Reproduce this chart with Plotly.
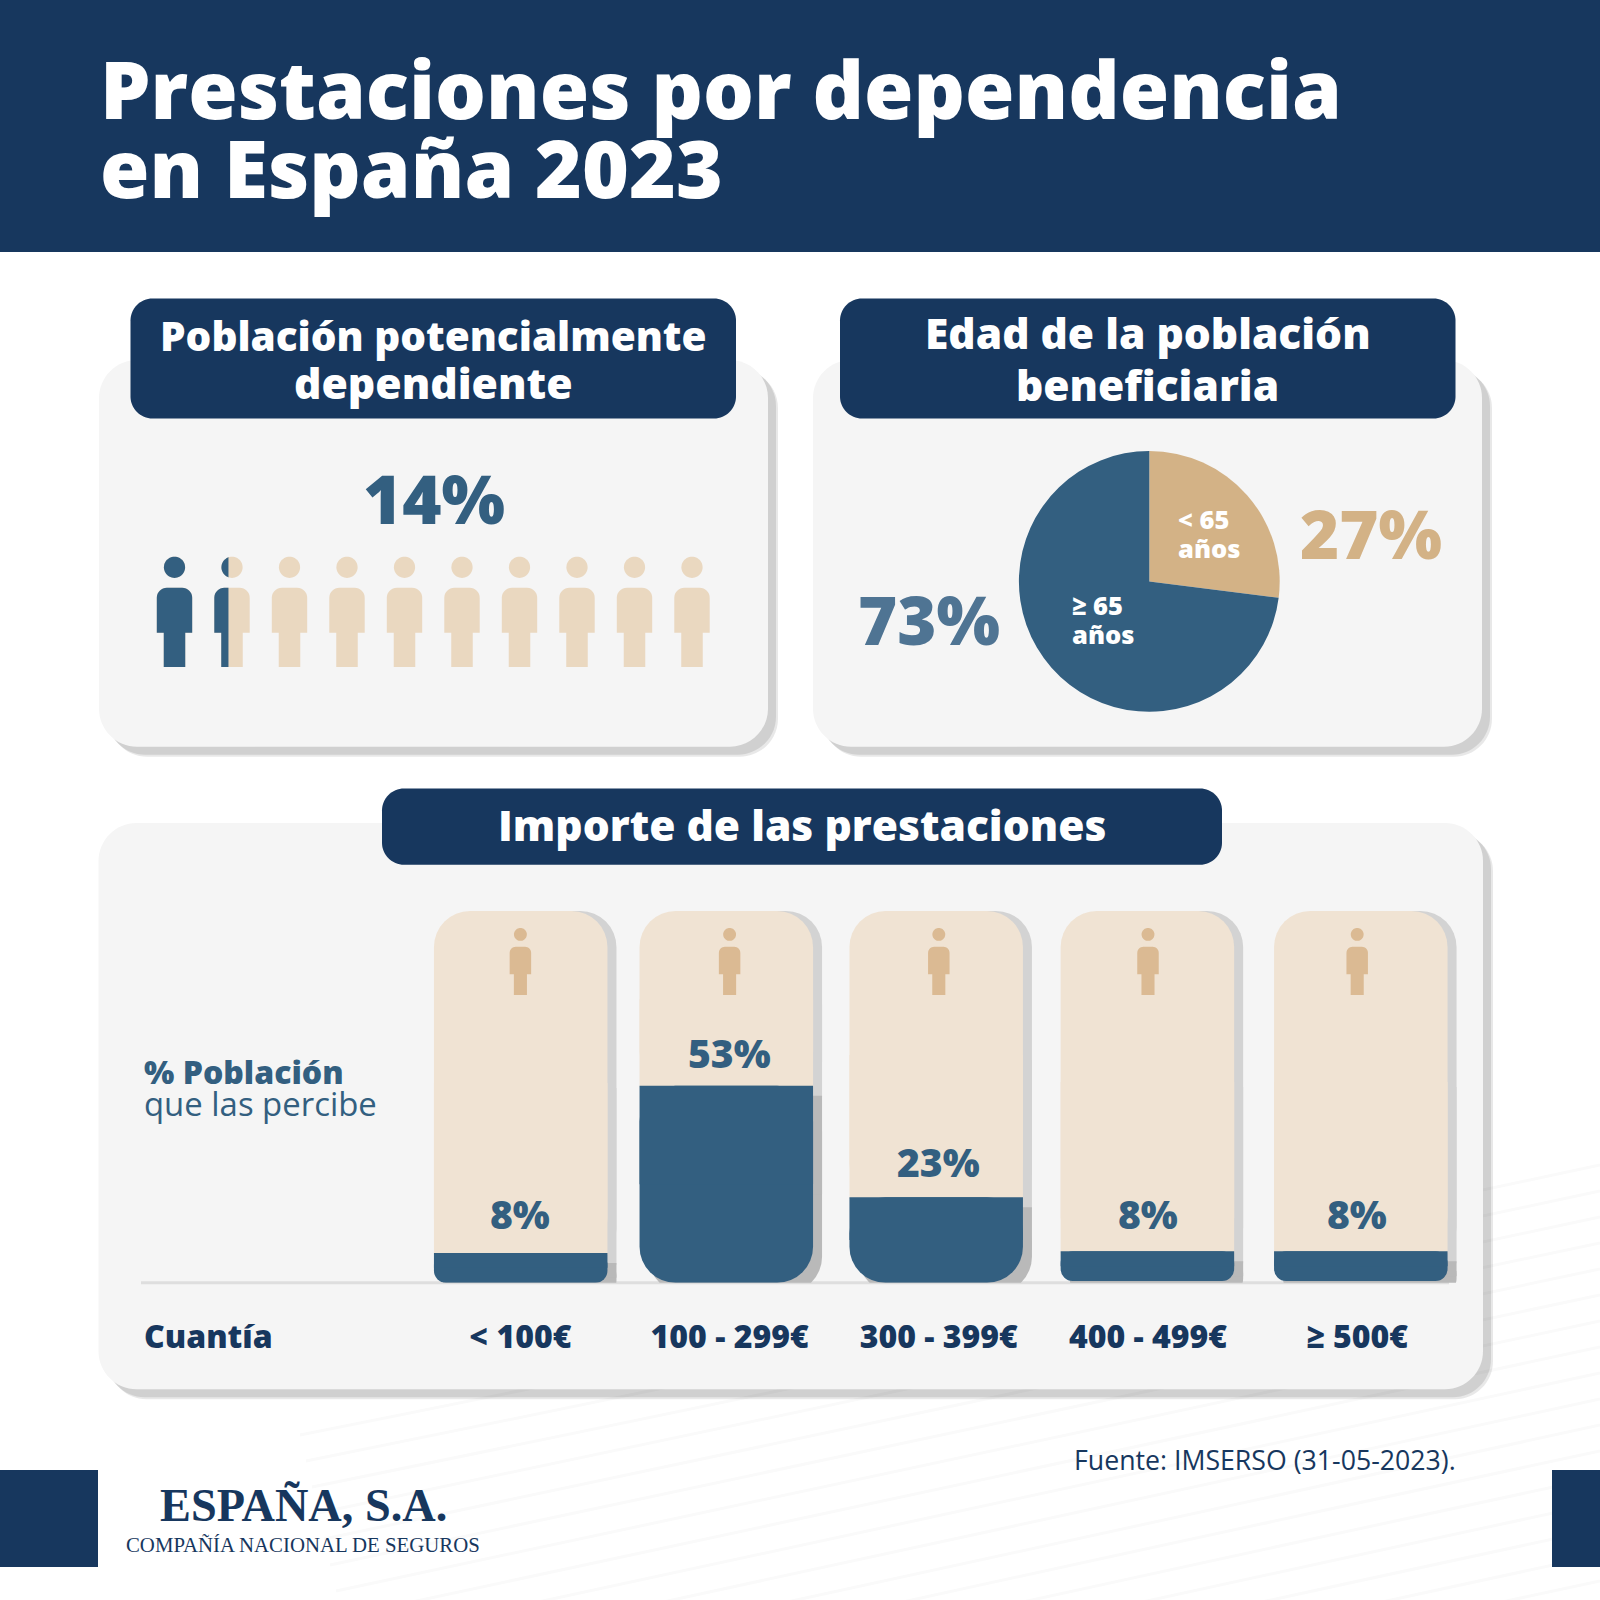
import math
import plotly.graph_objects as go

# chart data
title_lines = ["Prestaciones por dependencia", "en España 2023"]
potential_pct = 14
people_total = 10
age_labels = ["< 65 años", "≥ 65 años"]
age_values = [27, 73]
amount_labels = ["< 100€", "100 - 299€", "300 - 399€", "400 - 499€", "≥ 500€"]
amount_values = [8, 53, 23, 8, 8]

NAVY = "#17375E"
BLUE = "#335F80"
BLUE_SOFT = "#4F7493"
TAN = "#D3B286"
PERSON_TAN = "#EAD8C0"
MINI_TAN = "#DBBA93"
TRACK = "#F0E3D3"
CARD = "#F5F5F5"
FONT = "Open Sans"

# the page is laid out on a 1600 px grid (axis x/y), the bars get their own axes
SIZE = 1600
col_step = 209.2
col_left = 938.8 - 2.5 * col_step
bar_y0, bar_y100 = 1282.7, 911.0
px_per_pct = (bar_y0 - bar_y100) / 100
bar_w = 173.5 / col_step
bar_nudge = [0.3, -3.3, -2.6, -0.6, 3.6]
bar_floor = [0, 0, 0, 0.45, 0.45]

shapes = []


def rrect(x0, y0, x1, y1, r):
    k = r * 0.45
    return (f"M{x0+r},{y0} L{x1-r},{y0} C{x1-k},{y0} {x1},{y0+k} {x1},{y0+r} "
            f"L{x1},{y1-r} C{x1},{y1-k} {x1-k},{y1} {x1-r},{y1} "
            f"L{x0+r},{y1} C{x0+k},{y1} {x0},{y1-k} {x0},{y1-r} "
            f"L{x0},{y0+r} C{x0},{y0+k} {x0+k},{y0} {x0+r},{y0} Z")


def add_path(path, color, layer="below"):
    shapes.append(dict(type="path", path=path, xref="x", yref="y", fillcolor=color,
                       line=dict(width=0), layer=layer))


def card(x0, y0, x1, y1):
    add_path(rrect(x0 + 10, y0 + 10, x1 + 10, y1 + 10, 38), "rgba(0,0,0,0.09)")
    add_path(rrect(x0 + 8, y0 + 8, x1 + 8, y1 + 8, 38), "rgba(0,0,0,0.10)")
    add_path(rrect(x0, y0, x1, y1, 38), CARD)


def person_points(cx, top, s):
    # head polygon and body polygon, clipped later for the split figure
    r = 10.6 * s
    cy = top + r
    head = []
    for i in range(48):
        t = i / 48 * 2 * math.pi
        head.append((cx + r * math.cos(t), cy + r * math.sin(t)))
    w, lw, c = 17.7 * s, 10.75 * s, 10 * s
    y0, y1, y2 = top + 31 * s, top + 76 * s, top + 110.3 * s
    body = []
    for i in range(9):
        t = i / 8 * math.pi / 2
        body.append((cx - w + c - c * math.cos(t), y0 + c - c * math.sin(t)))
    for i in range(9):
        t = i / 8 * math.pi / 2
        body.append((cx + w - c + c * math.sin(t), y0 + c - c * math.cos(t)))
    body += [(cx + w, y1), (cx + lw, y1), (cx + lw, y2), (cx - lw, y2), (cx - lw, y1), (cx - w, y1)]
    return head, body


def poly_path(pts):
    return "M" + " L".join(f"{x:.2f},{y:.2f}" for x, y in pts) + " Z"


def add_person(cx, top, s, color, layer="below", clip_x=None):
    for part in person_points(cx, top, s):
        if clip_x is not None:
            part = [(min(x, clip_x), y) for x, y in part]
        add_path(poly_path(part), color, layer)


# faint wave texture behind the lower right part
for i in range(26):
    y_right = 1165 + i * 26
    y_left = y_right + 270
    shapes.append(dict(type="path", xref="x", yref="y", layer="below",
                       path=f"M{300 + i * 6},{y_left} Q900,{y_right + 150} 1600,{y_right}",
                       line=dict(color="#FAFAFA", width=3)))

# header band and footer squares
add_path(f"M0,0 L{SIZE},0 L{SIZE},252 L0,252 Z", NAVY)
add_path("M0,1470 L98,1470 L98,1567 L0,1567 Z", NAVY)
add_path(f"M1552,1470 L{SIZE},1470 L{SIZE},1567 L1552,1567 Z", NAVY)

card(99, 360, 768, 746.7)
card(813, 360, 1482, 746.7)
card(98.5, 823, 1483, 1389.3)

add_path(rrect(130.5, 298.5, 736, 418.5, 22), NAVY)
add_path(rrect(840, 298.5, 1455.5, 418.5, 22), NAVY)
add_path(rrect(382, 788.5, 1222, 864.7, 22), NAVY)

# baseline under the columns
add_path("M141,1281.2 L1449,1281.2 L1449,1284.2 L141,1284.2 Z", "#DEDEDE")

# pictogram: 10 figures, filled up to the percentage
filled = potential_pct * people_total / 100
for i in range(people_total):
    cx = 174.5 + i * 57.5
    add_person(cx, 556.7, 1, PERSON_TAN)
    share = max(0, min(1, filled - i))
    if share >= 1:
        add_person(cx, 556.7, 1, BLUE)
    elif share > 0:
        add_person(cx, 556.7, 1, BLUE, clip_x=cx - 17.7 + share * 35.4)

# little figure at the top of every column
for i in range(len(amount_labels)):
    add_person(col_left + (i + 0.5) * col_step, 928, 0.607, MINI_TAN, layer="above")

annotations = []


def add_text(x, base, text, size, color, weight=800, anchor="left", family=FONT):
    annotations.append(dict(x=x, y=base - 0.36 * size, xref="x", yref="y", text=text, showarrow=False,
                            xanchor=anchor, yanchor="middle", borderpad=0, borderwidth=0,
                            font=dict(family=family, size=size, color=color, weight=weight)))


add_text(100, 116, title_lines[0], 80.1, "white", 800)
add_text(100, 195.5, title_lines[1], 80.1, "white", 800)
add_text(433, 350, "Población potencialmente", 40.5, "white", 800, "center")
add_text(433, 397.5, "dependiente", 42.7, "white", 800, "center")
add_text(1147.5, 348, "Edad de la población", 42.5, "white", 800, "center")
add_text(1147.5, 400, "beneficiaria", 42.5, "white", 800, "center")
add_text(802, 840, "Importe de las prestaciones", 42.5, "white", 800, "center")

add_text(434, 522, f"{potential_pct}%", 67, BLUE, 800, "center")
add_text(929, 643, f"{age_values[1]}%", 67, BLUE_SOFT, 800, "center")
add_text(1370.5, 556.7, f"{age_values[0]}%", 67, TAN, 800, "center")

add_text(1178, 528, age_labels[0].split(" años")[0], 25.5, "white", 800)
add_text(1178, 557.3, "años", 25.5, "white", 800)
add_text(1072, 614.3, age_labels[1].split(" años")[0], 25.5, "white", 800)
add_text(1072, 643, "años", 25.5, "white", 800)

add_text(144, 1083.5, "% Población", 32, BLUE, 800)
add_text(144, 1115.7, "que las percibe", 32.9, BLUE, 400)
add_text(144, 1347, "Cuantía", 32, NAVY, 800)

add_text(1456, 1469.3, "Fuente: IMSERSO (31-05-2023).", 26.7, NAVY, 400, "right")
add_text(303.5, 1522, "ESPAÑA, S.A.", 46.3, NAVY, 700, "center", "Liberation Serif")
add_text(303, 1552, "COMPAÑÍA NACIONAL DE SEGUROS", 20.8, NAVY, 400, "center", "Liberation Serif")

# percentage above each fill
label_lift = [25, 19, 22, 25, 25]
for lab, val, lift in zip(amount_labels, amount_values, label_lift):
    annotations.append(dict(x=lab, y=val, xref="x2", yref="y2", text=f"{val}%", showarrow=False,
                            xanchor="center", yanchor="middle", yshift=lift + 0.36 * 39, borderpad=0,
                            font=dict(family=FONT, size=39, color=BLUE, weight=800)))

fig = go.Figure()

fig.add_trace(go.Scatter(x=[0, SIZE], y=[0, SIZE], mode="markers", marker=dict(opacity=0),
                         hoverinfo="skip", showlegend=False))


def add_bars(labels, low, high, color, radius, dx=0.0):
    idx = [amount_labels.index(l) for l in labels]
    fig.add_trace(go.Bar(x=labels, y=[h - l for l, h in zip(low, high)], base=low, width=bar_w,
                         offset=[-bar_w / 2 + (bar_nudge[i] + dx) / col_step for i in idx],
                         marker=dict(color=color, cornerradius=radius, line=dict(width=0)),
                         xaxis="x2", yaxis="y2", cliponaxis=False, hoverinfo="skip", showlegend=False))


# a bar with a base gets all four corners rounded, so one end is squared off again with a plain bar
def add_track(labels, low, color, dx=0.0):
    top = [100] * len(low)
    add_bars(labels, low, top, color, 36, dx)
    add_bars(labels, low, [(l + 100) / 2 for l in low], color, 0, dx)


def add_fill(labels, low, high, color, radius, dx=0.0):
    add_bars(labels, low, high, color, radius, dx)
    add_bars(labels, [(l + h) / 2 for l, h in zip(low, high)], high, color, 0, dx)


shadow_dy = 10 / px_per_pct
fill_low = list(bar_floor)
fill_high = [v + f for v, f in zip(amount_values, bar_floor)]
track_low = [h - 0.5 for h in fill_high]

# the track shadow runs down past the fill top so it meets the darker fill shadow
add_track(amount_labels, [l - shadow_dy for l in track_low], "#D3D3D3", 9)
add_track(amount_labels, track_low, TRACK)

# tall fills have the big corner, short ones the small one
groups = []
for big in (True, False):
    keep = [i for i, v in enumerate(amount_values) if (v >= 20) == big]
    groups.append(([amount_labels[i] for i in keep], [fill_low[i] for i in keep],
                   [fill_high[i] for i in keep], 36 if big else 12))
for labs, lows, highs, rad in groups:
    add_fill(labs, [l - shadow_dy for l in lows], [h - shadow_dy for h in highs], "#B9B9B9", rad, 9)
for labs, lows, highs, rad in groups:
    add_fill(labs, lows, highs, BLUE, rad)

cx, cy, r = 1149.3, 581.4, 130.4
fig.add_trace(go.Pie(labels=age_labels, values=age_values, sort=False, direction="clockwise", rotation=0,
                     marker=dict(colors=[TAN, BLUE], line=dict(width=0)), textinfo="none", hoverinfo="skip",
                     showlegend=False,
                     domain=dict(x=[(cx - r) / SIZE, (cx + r) / SIZE],
                                 y=[1 - (cy + r) / SIZE, 1 - (cy - r) / SIZE])))

fig.update_layout(
    width=SIZE, height=SIZE, margin=dict(l=0, r=0, t=0, b=0), autosize=False,
    paper_bgcolor="white", plot_bgcolor="rgba(0,0,0,0)", barmode="overlay",
    shapes=shapes, annotations=annotations,
    xaxis=dict(range=[0, SIZE], domain=[0, 1], visible=False, fixedrange=True),
    yaxis=dict(range=[SIZE, 0], domain=[0, 1], visible=False, fixedrange=True),
    xaxis2=dict(type="category", categoryorder="array", categoryarray=amount_labels, range=[-0.5, 4.5],
                domain=[col_left / SIZE, (col_left + 5 * col_step) / SIZE], anchor="y2",
                showgrid=False, zeroline=False, showline=False, ticks="", ticklabelstandoff=32,
                tickfont=dict(family=FONT, size=32, color=NAVY, weight=800), fixedrange=True),
    yaxis2=dict(range=[0, 100], domain=[1 - bar_y0 / SIZE, 1 - bar_y100 / SIZE], anchor="x2",
                visible=False, fixedrange=True),
)

fig.write_html("out.html", config=dict(displayModeBar=False), post_script="document.body.style.margin='0';")
